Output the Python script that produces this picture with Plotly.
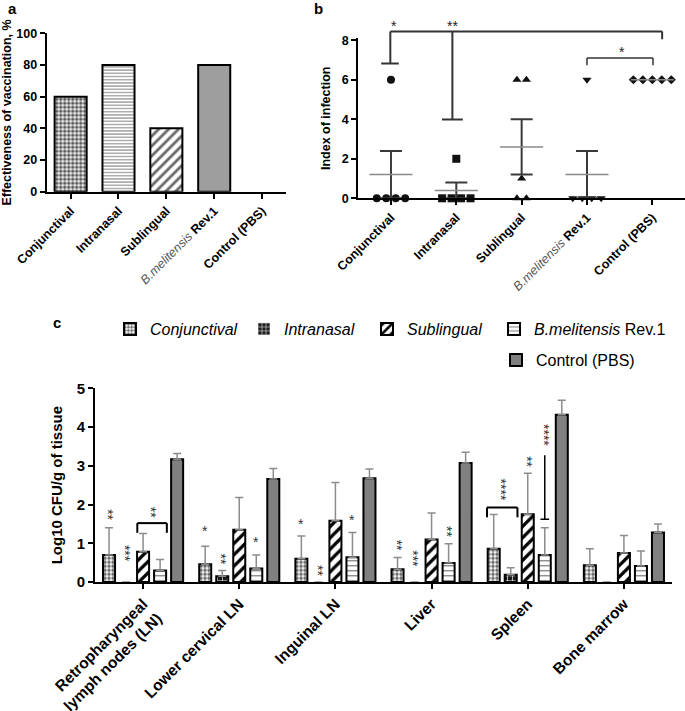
import plotly.graph_objects as go

FONT = "Liberation Sans, Arial, sans-serif"
W, H = 685, 711

# ---------------- Data ----------------
# Panel a
cats_ab = ["Conjunctival", "Intranasal", "Sublingual", "B.melitensis Rev.1", "Control (PBS)"]
ticktext_ab = ["<b>Conjunctival</b>", "<b>Intranasal</b>", "<b>Sublingual</b>",
               "<span style='color:#555;font-weight:normal'><i>B.melitensis</i></span> <b>Rev.1</b>",
               "<b>Control (PBS)</b>"]
effectiveness = [60, 80, 40, 80, 0]

# Panel b (index of infection, individual animals)
b_conj = [6, 0, 0, 0, 0]
b_intra = [2, 0, 0, 0, 0]
b_subl = [6, 6, 1, 0, 0]
b_rev = [6, 0, 0, 0, 0]
b_ctrl = [6, 6, 6, 6, 6]

# Panel c (log10 CFU/g of tissue, mean and SD)
tissues = ["Retropharyngeal<br>lymph nodes (LN)", "Lower cervical LN", "Inguinal LN",
           "Liver", "Spleen", "Bone marrow"]
c_conj = [0.70, 0.46, 0.60, 0.33, 0.86, 0.43]
c_conj_err = [0.70, 0.46, 0.59, 0.30, 0.88, 0.43]
c_intra = [0, 0.15, 0, 0, 0.19, 0]
c_intra_err = [0, 0.15, 0, 0, 0.18, 0]
c_subl = [0.78, 1.35, 1.58, 1.10, 1.75, 0.75]
c_subl_err = [0.47, 0.83, 0.99, 0.68, 1.06, 0.45]
c_rev = [0.30, 0.35, 0.64, 0.49, 0.70, 0.41]
c_rev_err = [0.28, 0.35, 0.64, 0.50, 0.70, 0.39]
c_ctrl = [3.17, 2.66, 2.68, 3.07, 4.32, 1.28]
c_ctrl_err = [0.15, 0.27, 0.24, 0.28, 0.37, 0.22]

# ---------------- Layout geometry (pixels -> paper) ----------------
def px_x(a, b):
    return [a / W, b / W]

def px_y(top, bottom):
    return [1 - bottom / H, 1 - top / H]

dom_a_x, dom_a_y = px_x(46.7, 286), px_y(33.3, 191.7)
dom_b_x, dom_b_y = px_x(358.3, 685), px_y(38.3, 198.3)
dom_c_x, dom_c_y = px_x(95, 672), px_y(388.3, 582)
b_range = [0, 8.1]

def b_paper_y(v):
    return dom_b_y[0] + (v - b_range[0]) / (b_range[1] - b_range[0]) * (dom_b_y[1] - dom_b_y[0])

fig = go.Figure()

# ---------------- Panel a ----------------
a_styles = [
    dict(color="white", pattern=dict(shape=".", fgcolor="#555555", bgcolor="white", size=4, solidity=0.6)),
    dict(color="white", pattern=dict(shape="-", fgcolor="#8a8a8a", bgcolor="white", size=3.2, solidity=0.35)),
    dict(color="white", pattern=dict(shape="/", fgcolor="#6a6a6a", bgcolor="white", size=7, solidity=0.4)),
    dict(color="#9e9e9e"),
    dict(color="white"),
]
for i, (cat, val) in enumerate(zip(cats_ab, effectiveness)):
    fig.add_trace(go.Bar(
        x=[i], y=[val], width=0.67, name=cat,
        xaxis="x", yaxis="y", showlegend=False,
        marker=dict(line=dict(color="black", width=2 if val > 0 else 0), **a_styles[i]),
    ))

# ---------------- Panel b ----------------
groups_b = [b_conj, b_intra, b_subl, b_rev, b_ctrl]
symbols_b = ["circle", "square", "triangle-up", "triangle-down", "diamond"]
spacing = 0.145
for gi, (vals, sym) in enumerate(zip(groups_b, symbols_b)):
    xs, ys = [], []
    for v in sorted(set(vals), reverse=True):
        n = vals.count(v)
        for i in range(n):
            xs.append(gi + (i - (n - 1) / 2) * spacing)
            ys.append(v)
    fig.add_trace(go.Scatter(
        x=xs, y=ys, mode="markers", xaxis="x2", yaxis="y2", showlegend=False,
        cliponaxis=False,
        marker=dict(symbol=sym, size=8 if sym != "diamond" else 7, color="#111111",
                    line=dict(width=0)),
    ))
    n = len(vals)
    mean = sum(vals) / n
    sd = (sum((v - mean) ** 2 for v in vals) / (n - 1)) ** 0.5
    sem = sd / n ** 0.5
    fig.add_trace(go.Scatter(
        x=[gi], y=[mean], mode="markers", xaxis="x2", yaxis="y2", showlegend=False,
        cliponaxis=False,
        marker=dict(size=1, color="rgba(0,0,0,0)"),
        error_x=dict(type="constant", value=0.33, color="#8a8a8a", thickness=1.5, width=0,
                     visible=True),
        error_y=dict(type="constant", value=sem, color="#3a3a3a", thickness=2, width=11,
                     visible=sem > 0),
    ))

# ---------------- Panel c ----------------
slot, bw = 0.177, 0.125
series_c = [
    ("<i>Conjunctival</i>", c_conj, c_conj_err,
     dict(shape=".", fgcolor="#6a6a6a", bgcolor="white", size=4, solidity=0.6), "white"),
    ("<i>Intranasal</i>", c_intra, c_intra_err,
     dict(shape="+", fgcolor="white", bgcolor="#1a1a1a", size=5, solidity=0.25), "#1a1a1a"),
    ("<i>Sublingual</i>", c_subl, c_subl_err,
     dict(shape="/", fgcolor="black", bgcolor="white", size=8, solidity=0.4), "white"),
    ("<i>B.melitensis</i> Rev.1", c_rev, c_rev_err,
     dict(shape="-", fgcolor="#666666", bgcolor="white", size=5, solidity=0.22), "white"),
    ("Control (PBS)", c_ctrl, c_ctrl_err, dict(shape=""), "#808080"),
]
legend_names = ["legend", "legend2", "legend3", "legend4", "legend5"]
for k, (name, vals, errs, pat, col) in enumerate(series_c):
    fig.add_trace(go.Bar(
        x=list(range(len(tissues))), y=vals, name=name,
        xaxis="x3", yaxis="y3",
        width=bw, offset=(k - 2) * slot - bw / 2,
        legend=legend_names[k],
        marker=dict(color=col, line=dict(color="black", width=[2 if v > 0 else 0 for v in vals]),
                    pattern=pat),
        error_y=dict(type="data", symmetric=False,
                     array=[e if e > 0 else None for e in errs],
                     arrayminus=[0 if e > 0 else None for e in errs],
                     color="#8c8c8c", thickness=1.5, width=4),
    ))

def cx(g, k):
    return g + (k - 2) * slot

shapes = []
annotations = []

def star_c(g, k, s, y):
    annotations.append(dict(x=cx(g, k), y=y, xref="x3", yref="y3", text=s, showarrow=False,
                            textangle=90 if len(s) > 1 else 0, xshift=-1 if len(s) > 1 else 0,
                            yshift=0 if len(s) > 1 else -3,
                            font=dict(family=FONT, size=14, color="#333333")))

def line(x0, y0, x1, y1, xref, yref, color="black", width=2):
    shapes.append(dict(type="line", x0=x0, y0=y0, x1=x1, y1=y1, xref=xref, yref=yref,
                       line=dict(color=color, width=width)))

# panel c stars
star_c(0, 0, "**", 1.75)
star_c(0, 1, "***", 0.75)
star_c(1, 0, "*", 1.39)
star_c(1, 1, "**", 0.6)
star_c(1, 3, "*", 1.12)
star_c(2, 0, "*", 1.58)
star_c(2, 1, "**", 0.3)
star_c(2, 3, "*", 1.69)
star_c(3, 0, "**", 0.95)
star_c(3, 1, "***", 0.6)
star_c(3, 3, "**", 1.3)
star_c(4, 2, "**", 3.1)
# bracket Retropharyngeal sublingual vs Rev.1
xa0, xa1 = cx(0, 2) - 0.06, cx(0, 3) + 0.07
line(xa0, 1.52, xa1, 1.52, "x3", "y3")
line(xa0, 1.52, xa0, 1.27, "x3", "y3")
line(xa1, 1.52, xa1, 1.27, "x3", "y3")
star_c(0, 2.5, "**", 1.8)
# bracket spleen conj vs intranasal
xs0, xs1 = cx(4, 0) - 0.07, cx(4, 1) + 0.07
line(xs0, 1.92, xs1, 1.92, "x3", "y3")
line(xs0, 1.92, xs0, 1.67, "x3", "y3")
line(xs1, 1.92, xs1, 1.67, "x3", "y3")
star_c(4, 0.5, "****", 2.38)
# spleen Rev.1 vertical line
line(cx(4, 3), 1.62, cx(4, 3), 3.27, "x3", "y3", width=1.5)
line(cx(4, 3) - 0.045, 1.62, cx(4, 3) + 0.045, 1.62, "x3", "y3", width=1.5)
star_c(4, 3, "****", 3.8)

# panel b significance lines
bc = "#333333"
line(-0.01, b_paper_y(8.45), 4.15, b_paper_y(8.45), "x2", "paper", bc)
line(4.15, b_paper_y(8.45), 4.15, b_paper_y(8.05), "x2", "paper", bc)
line(-0.01, b_paper_y(8.45), -0.01, b_paper_y(6.82), "x2", "paper", bc)
line(-0.15, b_paper_y(6.82), 0.12, b_paper_y(6.82), "x2", "paper", bc)
line(0.94, b_paper_y(8.45), 0.94, b_paper_y(3.99), "x2", "paper", bc)
line(0.78, b_paper_y(3.99), 1.1, b_paper_y(3.99), "x2", "paper", bc)
line(3.0, b_paper_y(7.1), 4.01, b_paper_y(7.1), "x2", "paper", bc, 1.5)
line(3.0, b_paper_y(7.1), 3.0, b_paper_y(6.73), "x2", "paper", bc, 1.5)
line(4.01, b_paper_y(7.1), 4.01, b_paper_y(6.73), "x2", "paper", bc, 1.5)
for xx, yy, s in [(0.04, 8.22, "*"), (0.94, 8.22, "**"), (3.54, 6.9, "*")]:
    annotations.append(dict(x=xx, y=b_paper_y(yy), xref="x2", yref="paper", text=s,
                            showarrow=False, yanchor="bottom",
                            font=dict(family=FONT, size=14, color="#222222")))

# panel labels
for lbl, px, py in [("a", 12, 8), ("b", 318, 9), ("c", 57, 322)]:
    annotations.append(dict(x=px / W, y=1 - py / H, xref="paper", yref="paper", text=f"<b>{lbl}</b>",
                            showarrow=False, xanchor="center", yanchor="middle",
                            font=dict(family=FONT, size=15, color="black")))

axis_common = dict(showline=True, linecolor="black", linewidth=2, ticks="outside",
                   tickcolor="black", tickwidth=2, ticklen=5, showgrid=False, zeroline=False,
                   fixedrange=True, automargin=False)

# one legend box per entry, placed where the reference shows each entry
legend_text_x = [150, 284, 407, 534, 536]
legend_text_y = [325, 325, 325, 325, 356]
legends = {}
for name, tx, ty in zip(legend_names, legend_text_x, legend_text_y):
    legends[name] = dict(orientation="h", x=(tx - 40) / W, y=1 - (ty - 13) / H,
                         xanchor="left", yanchor="top", font=dict(size=16),
                         bgcolor="rgba(0,0,0,0)")

fig.update_layout(
    template="none",
    width=W, height=H, margin=dict(l=0, r=0, t=0, b=0, pad=0, autoexpand=False),
    paper_bgcolor="white", plot_bgcolor="white",
    barmode="overlay", hovermode=False,
    font=dict(family=FONT, color="black"),
    xaxis=dict(domain=dom_a_x, range=[-0.5, 4.5], tickvals=list(range(5)), ticktext=ticktext_ab,
               tickangle=-45, tickfont=dict(size=12.5), anchor="y", **axis_common),
    yaxis=dict(domain=dom_a_y, range=[0, 100], dtick=20, anchor="x",
               tickfont=dict(size=12.5, weight="bold"),
               title=dict(text="<b>Effectiveness of vaccination, %</b>", font=dict(size=12.5),
                          standoff=8), **axis_common),
    xaxis2=dict(domain=dom_b_x, range=[-0.5, 4.5], tickvals=list(range(5)), ticktext=ticktext_ab,
                tickangle=-45, tickfont=dict(size=12.5), anchor="y2", **axis_common),
    yaxis2=dict(domain=dom_b_y, range=b_range, tickvals=[0, 2, 4, 6, 8], anchor="x2",
                tickfont=dict(size=12.5, weight="bold"),
                title=dict(text="<b>Index of infection</b>", font=dict(size=12.5), standoff=8),
                **axis_common),
    xaxis3=dict(domain=dom_c_x, range=[-0.5, 5.5], tickvals=list(range(6)),
                ticktext=[f"<b>{t}</b>" for t in tissues],
                tickangle=-45, tickfont=dict(size=15.5), anchor="y3", **axis_common),
    yaxis3=dict(domain=dom_c_y, range=[0, 5], dtick=1, anchor="x3",
                tickfont=dict(size=15, weight="bold"),
                title=dict(text="<b>Log10 CFU/g of tissue</b>", font=dict(size=15), standoff=10),
                **axis_common),
    shapes=shapes, annotations=annotations,
    **legends,
)

fig.write_html("out.html", config={"displayModeBar": False},
               post_script="document.body.style.margin='0';document.body.style.padding='0';")
